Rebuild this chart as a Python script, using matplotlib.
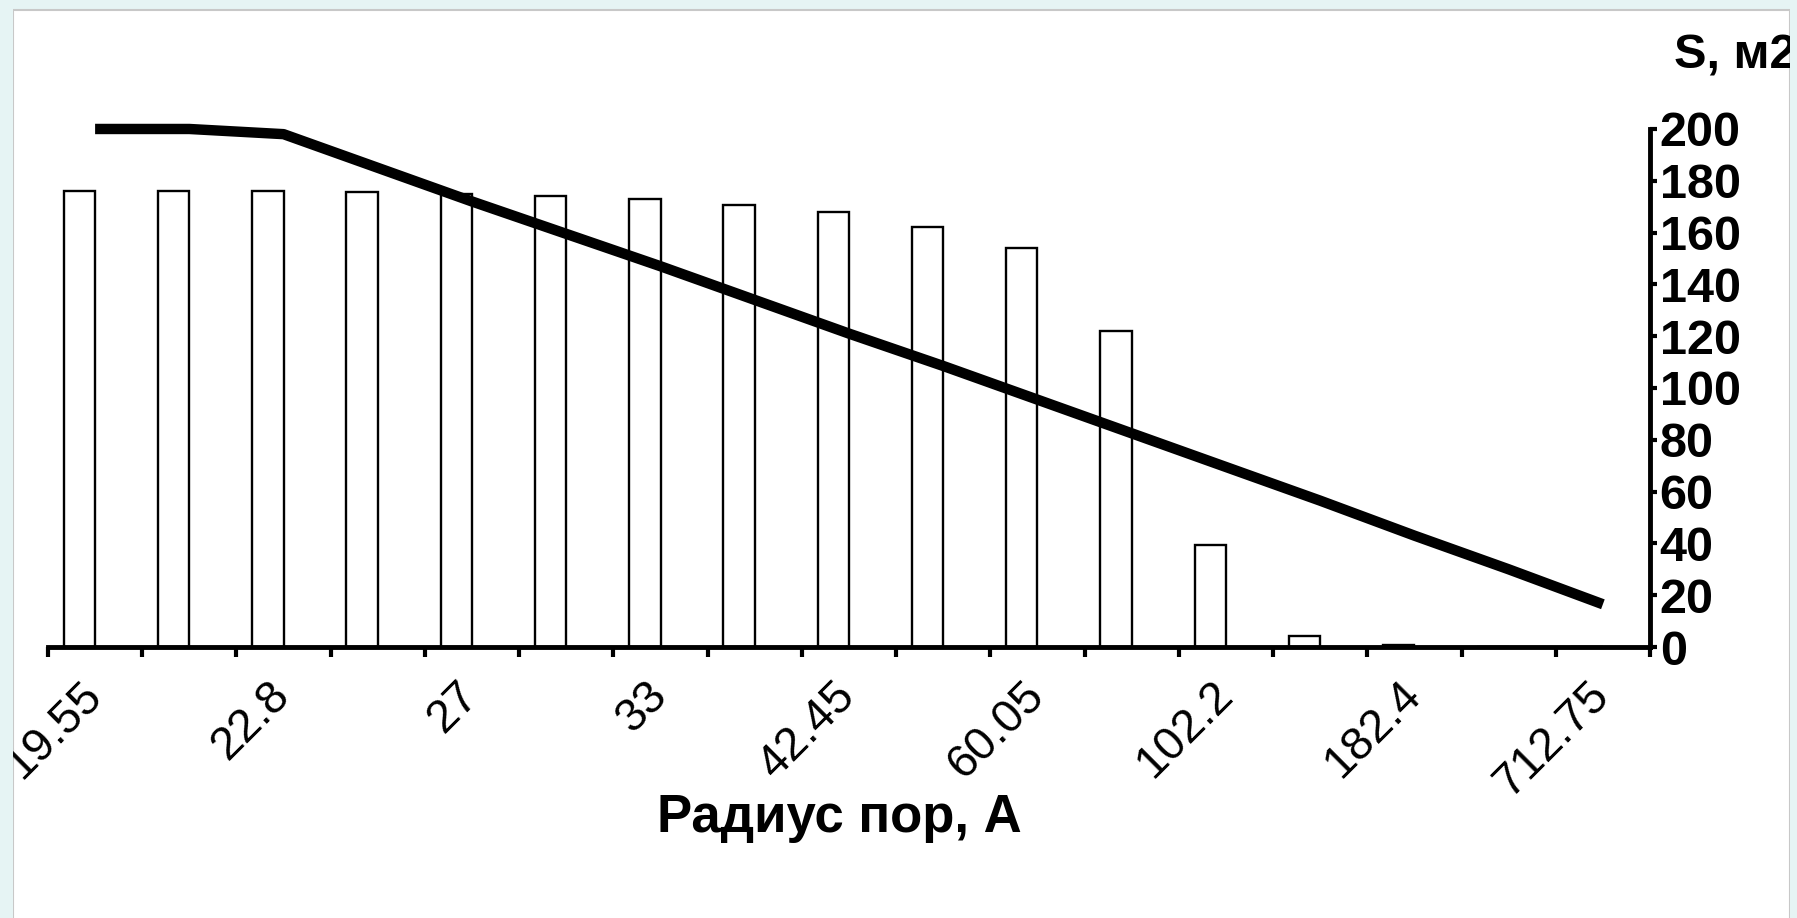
import numpy as np
import matplotlib.pyplot as plt
from matplotlib.patches import Rectangle

plt.rcParams['font.family'] = ['Liberation Sans', 'DejaVu Sans']

# подписи радиусов пор (подписана каждая вторая категория)
radius_labels = ['19.55', '', '22.8', '', '27', '', '33', '', '42.45', '',
                 '60.05', '', '102.2', '', '182.4', '', '712.75']
# столбцы
bar_values = [176, 176, 176, 175.5, 175, 174, 173, 170.5, 168, 162,
              154, 122, 39.5, 4.2, 0.6, 0, 0]
# линия S, м2
surface = [200, 200, 198, 185, 172, 159.5, 147, 134, 121, 108.5,
           95.5, 82.5, 69.5, 56.5, 43, 30, 16.5]
y_ticks = list(range(0, 201, 20))

x = np.arange(len(radius_labels))
bg = '#e6f4f4'

fig = plt.figure(figsize=(17.97, 9.18), dpi=100)
fig.patch.set_facecolor(bg)
# белая панель
fig.add_artist(Rectangle((13 / 1797, -0.05), (1790 - 13) / 1797, 1.05 - 10 / 918,
                         transform=fig.transFigure, facecolor='white',
                         edgecolor='#c8c8c8', lw=1.5, zorder=-5))

ax = fig.add_axes([0.0267, 0.2952, 0.8915, 0.5643])
ax.patch.set_alpha(0)

ax.bar(x - 1 / 6, bar_values, width=1 / 3, color='white', edgecolor='black',
       linewidth=1.7, zorder=2)
ax.plot(x, surface, color='black', lw=7.5, solid_capstyle='butt', zorder=4,
        clip_on=False)

ax.set_xlim(-0.5, len(x) - 0.5)
ax.set_ylim(0, 200)

for s in ['left', 'top']:
    ax.spines[s].set_visible(False)
for s in ['bottom', 'right']:
    ax.spines[s].set_linewidth(3.5)

# правая ось
ax.yaxis.tick_right()
ax.set_yticks(y_ticks)
ax.tick_params(axis='y', direction='out', length=5, width=3, pad=2, labelsize=35)
for lab in ax.get_yticklabels():
    lab.set_fontweight('bold')

# деления между категориями, подписи по центру
ax.set_xticks(np.arange(-0.5, len(x), 1))
ax.tick_params(axis='x', which='major', length=7, width=3, labelbottom=False)
ax.set_xticks(x, minor=True)
ax.set_xticklabels(radius_labels, minor=True, rotation=45, ha='right',
                   va='center', rotation_mode='anchor')
ax.tick_params(axis='x', which='minor', length=0, pad=30, labelsize=33.5)

fig.text(0.467, 0.109, 'Радиус пор, А', ha='center', va='center',
         fontsize=38, fontweight='bold')
fig.text(1674 / 1797, 1 - 69 / 918, 'S, м2', ha='left', va='baseline',
         fontsize=35, fontweight='bold')

# рамка поверх текста (слева и справа)
fig.add_artist(Rectangle((1790 / 1797, 0), 1, 1, transform=fig.transFigure,
                         facecolor=bg, edgecolor='none', zorder=10))
fig.add_artist(Rectangle((0, 0), 13 / 1797, 1, transform=fig.transFigure,
                         facecolor=bg, edgecolor='none', zorder=10))

fig.savefig('out.png', dpi=100, facecolor=fig.get_facecolor())
